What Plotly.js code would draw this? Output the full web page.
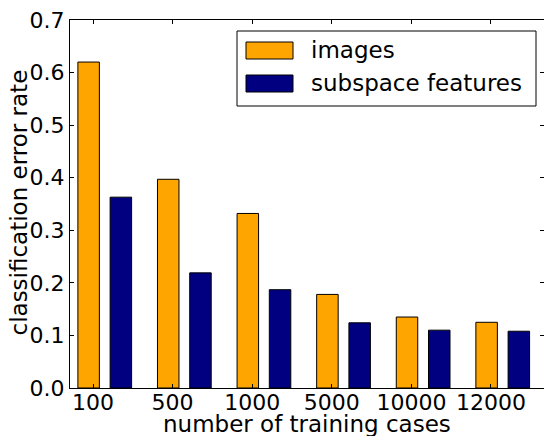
<!DOCTYPE html>
<html>
<head>
<meta charset="utf-8">
<script src="https://cdn.plot.ly/plotly-3.0.1.min.js"></script>
<style>html,body{margin:0;padding:0;background:#fff;}</style>
</head>
<body>
<div id="chart" style="width:544px;height:436px;"></div>
<script>
// ---- data ----
var categories = ["100", "500", "1000", "5000", "10000", "12000"];
var seriesNames = ["images", "subspace features"];
var imagesErr = [0.620, 0.397, 0.332, 0.178, 0.135, 0.125];
var subspaceErr = [0.363, 0.219, 0.187, 0.124, 0.110, 0.108];
var yTicks = [0.0, 0.1, 0.2, 0.3, 0.4, 0.5, 0.6, 0.7];
var seriesColors = ["#FFA500", "#000080"];
var xTitle = "number of training cases";
var yTitle = "classification error rate";

// ---- layout geometry ----
var W = 544, H = 436;
var M = {l: 70, r: 0, t: 20, b: 48};
var plotW = W - M.l - M.r, plotH = H - M.t - M.b;
function px(x) { return (x - M.l) / plotW; }
function py(y) { return (H - M.b - y) / plotH; }

var idx = categories.map(function (_, i) { return i; });
var font = "DejaVu Sans";

var traces = [
  {type: "bar", name: seriesNames[0], x: idx, y: imagesErr, offset: -0.19, width: 0.27,
   marker: {color: seriesColors[0], line: {color: "#000", width: 1}}, showlegend: false},
  {type: "bar", name: seriesNames[1], x: idx, y: subspaceErr, offset: 0.215, width: 0.27,
   marker: {color: seriesColors[1], line: {color: "#000", width: 1}}, showlegend: false}
];

// legend drawn by hand (matplotlib-style wide patches)
var shapes = [
  {type: "rect", xref: "paper", yref: "paper", x0: px(237), x1: px(536), y0: py(106), y1: py(31),
   line: {color: "#000", width: 1}, fillcolor: "#fff", layer: "above"}
];
var annotations = [];
var rowY = [50.5, 83.5];
seriesNames.forEach(function (name, i) {
  shapes.push({type: "rect", xref: "paper", yref: "paper",
    x0: px(246), x1: px(293), y0: py(rowY[i] + 8.5), y1: py(rowY[i] - 8.5),
    line: {color: "#000", width: 1}, fillcolor: seriesColors[i], layer: "above"});
  annotations.push({xref: "paper", yref: "paper", x: px(309), y: py(rowY[i]),
    xanchor: "left", yanchor: "middle", showarrow: false, text: name,
    font: {family: font, size: 23, color: "#000"}});
});
// axis titles placed like matplotlib's
annotations.push({xref: "paper", yref: "paper", x: 0.5, y: py(424.5),
  xanchor: "center", yanchor: "middle", showarrow: false, text: xTitle,
  font: {family: font, size: 23, color: "#000"}});
annotations.push({xref: "paper", yref: "paper", x: px(18.5), y: py(203),
  xanchor: "center", yanchor: "middle", showarrow: false, text: yTitle, textangle: -90,
  font: {family: font, size: 23, color: "#000"}});

var layout = {
  width: W, height: H,
  margin: M,
  paper_bgcolor: "#fff", plot_bgcolor: "#fff",
  font: {family: font, size: 22, color: "#000"},
  barmode: "overlay",
  showlegend: false,
  xaxis: {
    range: [-0.289, 5.666],
    tickmode: "array", tickvals: idx, ticktext: categories,
    ticks: "inside", ticklen: 4, tickwidth: 1, tickcolor: "#000",
    showline: true, linecolor: "#000", linewidth: 1, mirror: "ticks",
    showgrid: false, zeroline: false,
    ticklabelstandoff: -5,
    tickfont: {family: font, size: 22, color: "#000"}
  },
  yaxis: {
    range: [0, 0.7],
    tickmode: "array", tickvals: yTicks, ticktext: yTicks.map(function (v) { return v.toFixed(1); }),
    ticks: "inside", ticklen: 4, tickwidth: 1, tickcolor: "#000",
    showline: true, linecolor: "#000", linewidth: 1, mirror: "ticks",
    showgrid: false, zeroline: false,
    tickfont: {family: font, size: 22, color: "#000"}
  },
  shapes: shapes,
  annotations: annotations
};

Plotly.newPlot("chart", traces, layout, {displayModeBar: false, staticPlot: true});
</script>
</body>
</html>
